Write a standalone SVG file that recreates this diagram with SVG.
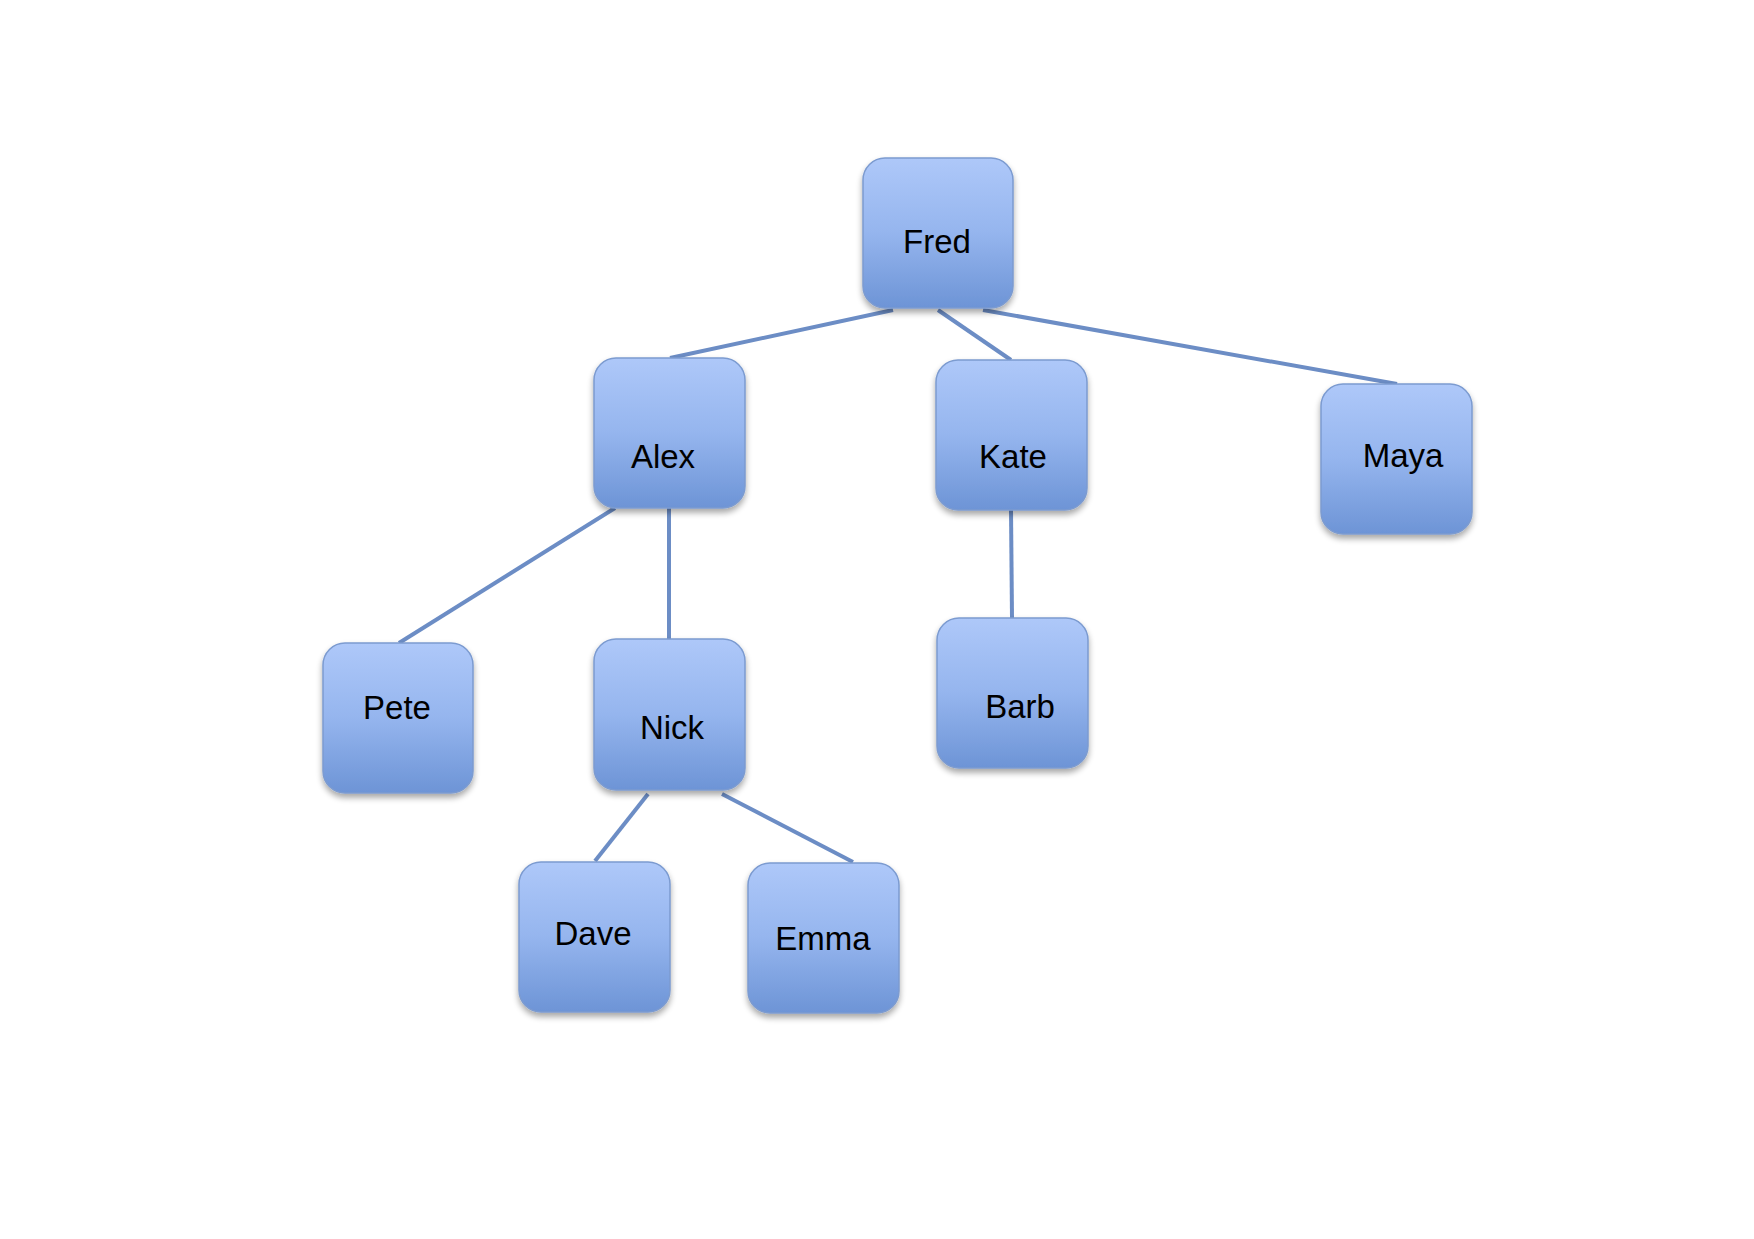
<svg xmlns="http://www.w3.org/2000/svg" width="1754" height="1239" viewBox="0 0 1754 1239">
  <defs>
    <linearGradient id="boxFill" x1="0" y1="0" x2="0" y2="1">
      <stop offset="0" stop-color="#aec8f9"/>
      <stop offset="0.5" stop-color="#95b5ee"/>
      <stop offset="1" stop-color="#6d94d6"/>
    </linearGradient>
    <filter id="shadow" x="-20%" y="-20%" width="140%" height="150%">
      <feGaussianBlur in="SourceAlpha" stdDeviation="3"/>
      <feOffset dx="0" dy="4" result="blur"/>
      <feComponentTransfer><feFuncA type="linear" slope="0.35"/></feComponentTransfer>
      <feMerge><feMergeNode/><feMergeNode in="SourceGraphic"/></feMerge>
    </filter>
  </defs>
  <style>
    .box { fill: url(#boxFill); stroke: #7c9bd0; stroke-width: 1.5; filter: url(#shadow); }
    .label { font-family: "Liberation Sans", Arial, sans-serif; font-size: 33px; fill: #000; text-anchor: middle; }
    .edge { stroke: #6c8dc5; stroke-width: 4; fill: none; stroke-linecap: butt; }
  </style>
  <rect width="1754" height="1239" fill="#ffffff"/>

  <g id="connectors">
    <line class="edge" x1="893" y1="310" x2="670" y2="358"/>
    <line class="edge" x1="938" y1="310" x2="1011" y2="360"/>
    <line class="edge" x1="983" y1="310" x2="1397" y2="384"/>
    <line class="edge" x1="615" y1="508" x2="399" y2="643"/>
    <line class="edge" x1="669" y1="508" x2="669" y2="639"/>
    <line class="edge" x1="1011" y1="510" x2="1012" y2="618"/>
    <line class="edge" x1="648" y1="794" x2="595" y2="861"/>
    <line class="edge" x1="722" y1="794" x2="853" y2="862"/>
  </g>

  <g id="node-fred">
    <rect class="box" x="863" y="158" width="150" height="150" rx="22"/>
    <text class="label" x="937" y="253">Fred</text>
  </g>
  <g id="node-alex">
    <rect class="box" x="594" y="358" width="151" height="150" rx="22"/>
    <text class="label" x="663" y="468">Alex</text>
  </g>
  <g id="node-kate">
    <rect class="box" x="936" y="360" width="151" height="150" rx="22"/>
    <text class="label" x="1013" y="468">Kate</text>
  </g>
  <g id="node-maya">
    <rect class="box" x="1321" y="384" width="151" height="150" rx="22"/>
    <text class="label" x="1403" y="467">Maya</text>
  </g>
  <g id="node-pete">
    <rect class="box" x="323" y="643" width="150" height="150" rx="22"/>
    <text class="label" x="397" y="719">Pete</text>
  </g>
  <g id="node-nick">
    <rect class="box" x="594" y="639" width="151" height="151" rx="22"/>
    <text class="label" x="672" y="739">Nick</text>
  </g>
  <g id="node-barb">
    <rect class="box" x="937" y="618" width="151" height="150" rx="22"/>
    <text class="label" x="1020" y="718">Barb</text>
  </g>
  <g id="node-dave">
    <rect class="box" x="519" y="862" width="151" height="150" rx="22"/>
    <text class="label" x="593" y="945">Dave</text>
  </g>
  <g id="node-emma">
    <rect class="box" x="748" y="863" width="151" height="150" rx="22"/>
    <text class="label" x="823" y="950">Emma</text>
  </g>
</svg>
